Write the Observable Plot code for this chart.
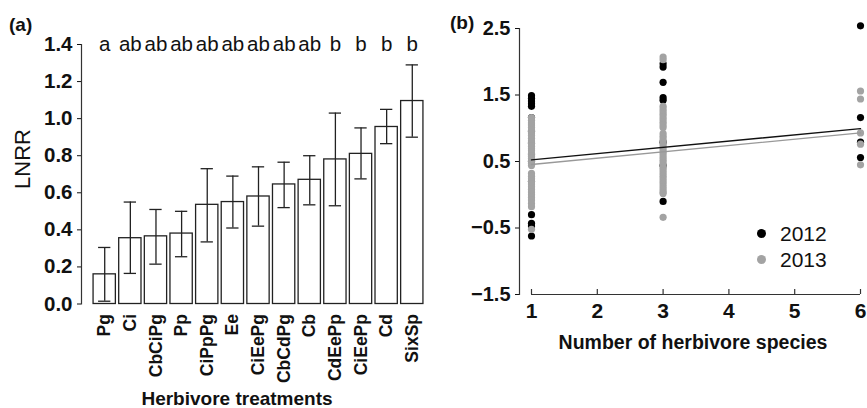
<!DOCTYPE html>
<html><head><meta charset="utf-8">
<script src="https://cdn.jsdelivr.net/npm/d3@7"></script>
<script src="https://cdn.jsdelivr.net/npm/@observablehq/plot@0.6"></script>
<style>
body{margin:0;background:#fff;font-family:"Liberation Sans",Arial,sans-serif;}
#wrap{position:relative;width:867px;height:408px;overflow:hidden;background:#fff;}
.panel{position:absolute;top:0;}
.lbl{position:absolute;white-space:nowrap;color:#111;line-height:1;}
.dot{position:absolute;border-radius:50%;}
</style></head><body>
<div id="wrap">
  <div id="pa" class="panel" style="left:0"></div>
  <div id="pb" class="panel" style="left:440px"></div>
  <div class="lbl" style="left:9px;top:15px;font-weight:bold;font-size:19px;">(a)</div>
  <div class="lbl" style="left:450px;top:13px;font-weight:bold;font-size:19px;">(b)</div>
  <div class="lbl" style="left:23px;top:159px;font-size:22px;transform:translate(-50%,-50%) rotate(-90deg);">LNRR</div>
  <div class="lbl" style="left:237px;top:389px;font-weight:bold;font-size:19px;transform:translateX(-50%);">Herbivore treatments</div>
  <div class="lbl" style="left:693px;top:333px;font-weight:bold;font-size:19.5px;transform:translateX(-50%);">Number of herbivore species</div>
  <div class="dot" style="left:756.5px;top:228.5px;width:9px;height:9px;background:#000;"></div>
  <div class="dot" style="left:756.5px;top:254.5px;width:9px;height:9px;background:#a3a3a3;"></div>
  <div class="lbl" style="left:780px;top:222.5px;font-size:21px;">2012</div>
  <div class="lbl" style="left:780px;top:248.5px;font-size:21px;">2013</div>
</div>
<script>
// ---------- Panel (a) data ----------
const treatments = ["Pg","Ci","CbCiPg","Pp","CiPpPg","Ee","CiEePg","CbCdPg","Cb","CdEePp","CiEePp","Cd","SixSp"];
const lnrrMean = [0.16,0.355,0.365,0.38,0.535,0.55,0.58,0.645,0.67,0.78,0.81,0.955,1.095];
const lnrrLow  = [0.015,0.165,0.215,0.255,0.335,0.41,0.42,0.52,0.535,0.53,0.675,0.865,0.90];
const lnrrHigh = [0.305,0.55,0.51,0.50,0.73,0.69,0.74,0.765,0.80,1.03,0.95,1.05,1.29];
const groupLetters = ["a","ab","ab","ab","ab","ab","ab","ab","ab","b","b","b","b"];
const yTicksA = [0,0.2,0.4,0.6,0.8,1.0,1.2,1.4];

// ---------- Panel (b) data ----------
const xTicksB = [1,2,3,4,5,6];
const yTicksB = [-1.5,-0.5,0.5,1.5,2.5];
const y2012_sp1 = [1.49,1.45,1.41,1.37,1.33,1.16,0.95,0.78,0.6,0.5,0.2,-0.3,-0.43,-0.47,-0.62];
const y2012_sp3 = [1.97,1.92,1.69,1.46,1.42,0.79,0.44,-0.1];
const y2012_sp6 = [2.54,1.16,0.79,0.56];
const y2013_sp1 = [1.16,1.12,1.08,1.05,1.01,0.97,0.93,0.89,0.85,0.81,0.77,0.73,0.69,0.66,0.62,0.58,0.55,0.51,0.47,0.44,
                   0.32,0.28,0.24,0.2,0.16,0.12,0.08,0.04,0.0,-0.04,-0.08,-0.13,-0.18,-0.52];
const y2013_sp3 = [2.07,2.03,1.33,1.29,1.25,1.21,1.17,1.13,1.09,1.05,1.01,0.92,0.88,0.84,0.8,0.76,0.72,0.68,0.64,0.6,
                   0.56,0.52,0.48,0.44,0.4,0.36,0.32,0.28,0.24,0.2,0.16,0.12,0.08,0.04,0.02,-0.34];
const y2013_sp6 = [1.56,1.44,0.93,0.76,0.45];
const fitX = [1,6];
const fit2012 = [0.525,0.995];
const fit2013 = [0.455,0.93];

// ---------- build tables ----------
const barData = treatments.map((t,i)=>({t, mean:lnrrMean[i], low:lnrrLow[i], high:lnrrHigh[i], letter:groupLetters[i]}));
function pts(year, sp, arr){ return arr.map(v=>({year, sp, v})); }
const pts2012 = [...pts(2012,1,y2012_sp1),...pts(2012,3,y2012_sp3),...pts(2012,6,y2012_sp6)];
const pts2013 = [...pts(2013,1,y2013_sp1),...pts(2013,3,y2013_sp3),...pts(2013,6,y2013_sp6)];
const line2012 = fitX.map((x,i)=>({x, y:fit2012[i]}));
const line2013 = fitX.map((x,i)=>({x, y:fit2013[i]}));

const ff = '"Liberation Sans", Arial, sans-serif';

// ---------- Panel (a) ----------
const plotA = Plot.plot({
  width: 440, height: 408,
  marginLeft: 81, marginRight: 10, marginTop: 44, marginBottom: 104.5,
  style: {fontFamily: ff, color: "#111", background: "transparent", overflow: "visible"},
  x: {type: "band", domain: treatments, range: [91.4, 424.6], paddingInner: 0.13, paddingOuter: 0.065, round: false},
  y: {domain: [0, 1.4]},
  marks: [
    Plot.barY(barData, {x: "t", y: "mean", fill: "white", stroke: "#222", strokeWidth: 1.3}),
    Plot.ruleX(barData, {x: "t", y1: "low", y2: "high", stroke: "#222", strokeWidth: 1.3}),
    Plot.tickY(barData, {x: "t", y: "high", stroke: "#222", strokeWidth: 1.3, insetLeft: 5, insetRight: 5}),
    Plot.tickY(barData, {x: "t", y: "low", stroke: "#222", strokeWidth: 1.3, insetLeft: 5, insetRight: 5}),
    Plot.text(barData, {x: "t", text: "letter", frameAnchor: "top", lineAnchor: "middle", fontSize: 20.5, fill: "#111"}),
    Plot.frame({anchor: "left", stroke: "#333", strokeWidth: 1.2}),
    Plot.axisY({ticks: yTicksA, tickFormat: d3.format(".1f"), fontSize: 20.5, fontWeight: "bold", tickSize: 4, tickPadding: 5, label: null}),
    Plot.axisX({tickSize: 0, tickRotate: -90, fontSize: 17.5, fontWeight: "bold", tickPadding: 10, label: null})
  ]
});
document.getElementById("pa").appendChild(plotA);

// ---------- Panel (b) ----------
const plotB = Plot.plot({
  width: 427, height: 408,
  marginLeft: 79, marginRight: 7, marginTop: 28, marginBottom: 114,
  style: {fontFamily: ff, color: "#111", background: "transparent", overflow: "visible"},
  x: {domain: [1, 6], range: [91, 420]},
  y: {domain: [-1.5, 2.5]},
  marks: [
    Plot.frame({anchor: "left", stroke: "#333", strokeWidth: 1.2}),
    Plot.ruleY([-1.5], {x1: 1, x2: 6, stroke: "#333", strokeWidth: 1.2}),
    Plot.ruleX(xTicksB, {x: d => d, y1: -1.5, y2: -1.5, insetTop: -5, stroke: "#333", strokeWidth: 1.2}),
    Plot.dot(pts2012, {x: "sp", y: "v", r: 3.6, fill: "#000", stroke: null}),
    Plot.dot(pts2013, {x: "sp", y: "v", r: 3.6, fill: "#a3a3a3", stroke: null}),
    Plot.line(line2012, {x: "x", y: "y", stroke: "#111", strokeWidth: 1.4}),
    Plot.line(line2013, {x: "x", y: "y", stroke: "#999", strokeWidth: 1.4}),
    Plot.axisY({ticks: yTicksB, tickFormat: d3.format(".1f"), fontSize: 20, fontWeight: "bold", tickSize: 4, tickPadding: 5, label: null}),
    Plot.axisX({ticks: xTicksB, tickFormat: d3.format("d"), fontSize: 21, fontWeight: "bold", tickSize: 0, tickPadding: 9, label: null})
  ]
});
document.getElementById("pb").appendChild(plotB);
</script>
</body></html>
